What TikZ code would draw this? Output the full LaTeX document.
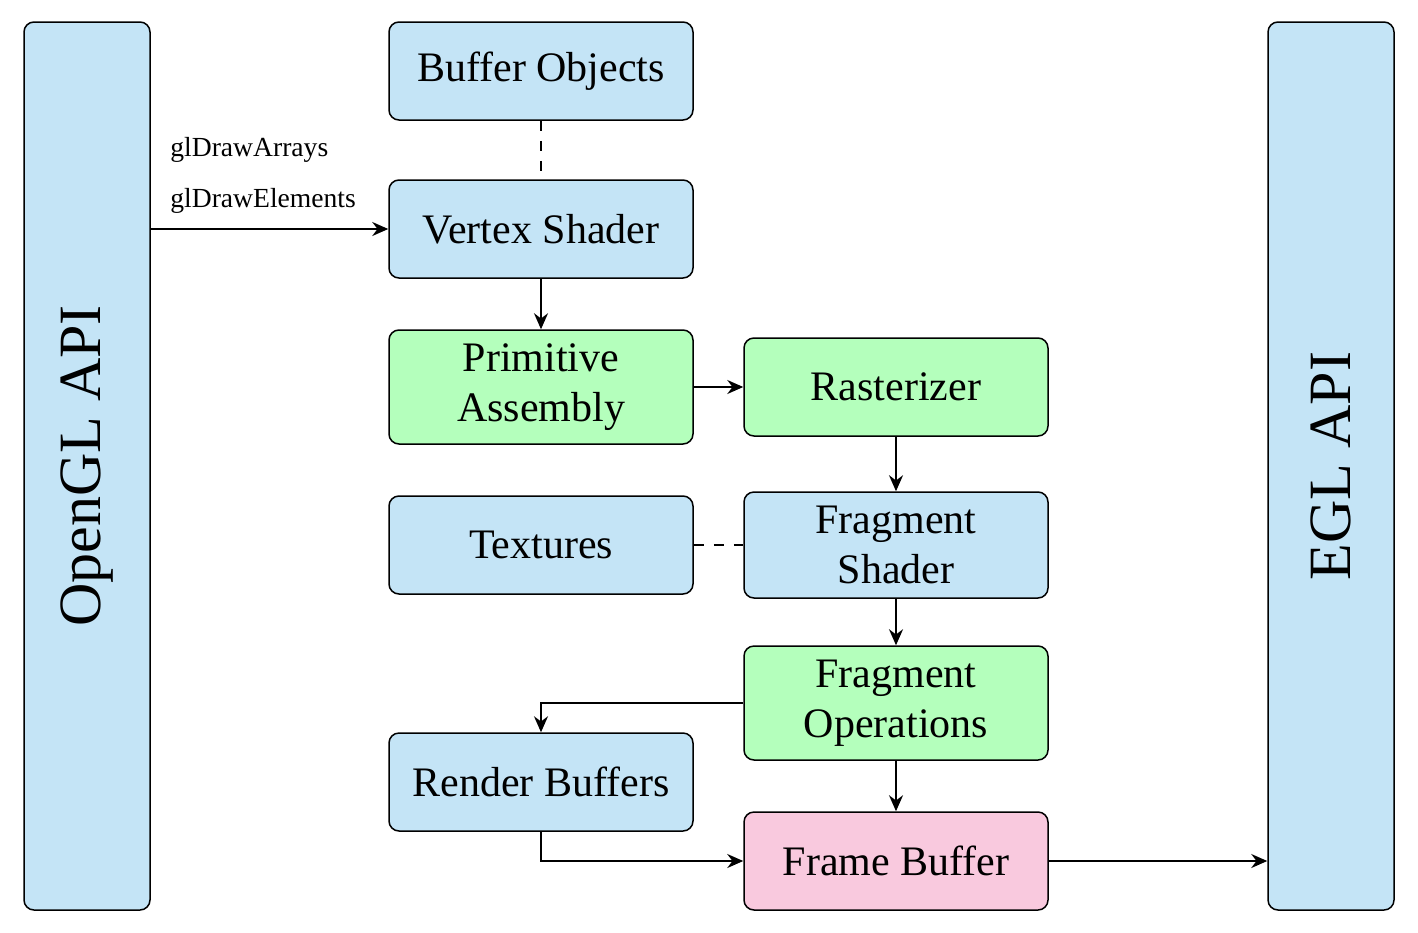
\documentclass[tikz,border=0pt]{standalone}
\usepackage{fontspec}
\setmainfont{Liberation Serif}
\usetikzlibrary{arrows.meta}
\definecolor{bblue}{RGB}{196,228,246}
\definecolor{bgreen}{RGB}{180,255,188}
\definecolor{bpink}{RGB}{249,201,222}
\tikzset{
  box/.style={draw, rounded corners=5pt, line width=0.75pt, align=center, inner sep=0pt,
    minimum width=152pt, minimum height=49pt, font=\fontsize{21}{25}\selectfont},
  api/.style={draw, rounded corners=5pt, line width=0.75pt, fill=bblue, rotate=90, inner sep=0pt,
    minimum width=444pt, minimum height=63pt, font=\fontsize{30}{36}\selectfont},
  arr/.style={-{Stealth[length=8pt,width=7pt]}, line width=1pt},
  dash line/.style={line width=1pt, dash pattern=on 5pt off 5pt},
  lbl/.style={anchor=west, inner sep=0pt, font=\fontsize{13.8}{16}\selectfont}
}
\begin{document}
\begin{tikzpicture}[x=0.5pt, y=-0.5pt]
\useasboundingbox (0,0) rectangle (1418,932);
\node[api] (opengl) at (87,466) {OpenGL API};
\node[api] (egl) at (1331,466) {EGL API};
\node[box, fill=bblue] (buffer) at (541,71) {Buffer Objects};
\node[box, fill=bblue] (vertex) at (541,229) {Vertex Shader};
\node[box, fill=bgreen, minimum height=57pt] (prim) at (541,387) {Primitive\\Assembly};
\node[box, fill=bgreen] (rast) at (896,387) {Rasterizer};
\node[box, fill=bblue] (tex) at (541,545) {Textures};
\node[box, fill=bblue, minimum height=53pt] (fshader) at (896,545) {Fragment\\Shader};
\node[box, fill=bgreen, minimum height=57pt] (fops) at (896,703) {Fragment\\Operations};
\node[box, fill=bblue] (render) at (541,782) {Render Buffers};
\node[box, fill=bpink] (frame) at (896,861) {Frame Buffer};
\node[lbl] (l1) at (170,150) {glDrawArrays};
\node[lbl] (l2) at (170,201) {glDrawElements};
\draw[arr] (opengl.south |- vertex.west) -- (vertex.west);
\draw[dash line] (buffer.south) -- (vertex.north);
\draw[arr] (vertex) -- (prim);
\draw[arr] (prim) -- (rast);
\draw[arr] (rast) -- (fshader);
\draw[dash line] (tex) -- (fshader);
\draw[arr] (fshader) -- (fops);
\draw[arr] (fops.west) -| (render.north);
\draw[arr] (fops) -- (frame);
\draw[arr] (render.south) |- (frame.west);
\draw[arr] (frame.east) -- (egl.north |- frame.east);
\end{tikzpicture}
\end{document}
